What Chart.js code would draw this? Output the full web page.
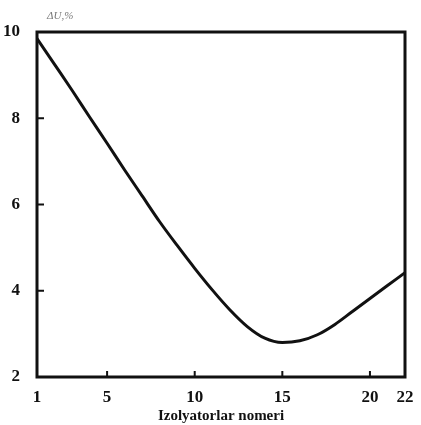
<!DOCTYPE html>
<html>
<head>
<meta charset="utf-8">
<script src="https://cdn.jsdelivr.net/npm/chart.js@4/dist/chart.umd.min.js"></script>
<style>
  html, body { margin: 0; padding: 0; background: #fff; }
  #wrap { width: 421px; height: 425px; }
</style>
</head>
<body>
<div id="wrap"><canvas id="lineChart" width="421" height="425"></canvas></div>
<script>
// izolyator numbers and voltage drop
const insulators = [1, 2, 3, 4, 5, 6, 7, 8, 9, 10, 11, 12, 13, 14, 15, 16, 17, 18, 19, 20, 21, 22];
const deltaU = [9.85, 9.25, 8.65, 8.03, 7.42, 6.8, 6.2, 5.6, 5.05, 4.52, 4.02, 3.56, 3.17, 2.9, 2.8, 2.84, 2.98, 3.22, 3.52, 3.82, 4.12, 4.42];
const xTicks = [1, 5, 10, 15, 20, 22];
const yTicks = [2, 4, 6, 8, 10];

const serif = '"Liberation Serif", "DejaVu Serif", serif';

// frame, inner tick marks and the small axis note
const framePlugin = {
    id: 'frame',
    afterDraw(chart) {
        const ctx = chart.ctx;
        const a = chart.chartArea;
        const xs = chart.scales.x, ys = chart.scales.y;
        ctx.save();
        ctx.strokeStyle = '#111';
        ctx.lineWidth = 3;
        ctx.strokeRect(a.left, a.top, a.right - a.left, a.bottom - a.top);
        ctx.lineWidth = 2;
        ctx.beginPath();
        [8, 6, 4].forEach(v => {
            const y = ys.getPixelForValue(v);
            ctx.moveTo(a.left, y);
            ctx.lineTo(a.left + 7, y);
        });
        [5, 10, 15, 20].forEach(v => {
            const x = xs.getPixelForValue(v);
            ctx.moveTo(x, a.bottom);
            ctx.lineTo(x, a.bottom - 6);
        });
        ctx.stroke();
        ctx.fillStyle = '#777';
        ctx.font = 'italic 11px ' + serif;
        ctx.textBaseline = 'middle';
        ctx.fillText('\u0394U,%', a.left + 10, a.top - 16);
        ctx.restore();
    }
};

new Chart(document.getElementById('lineChart').getContext('2d'), {
    type: 'line',
    data: {
        datasets: [{
            data: insulators.map((x, i) => ({ x: x, y: deltaU[i] })),
            borderColor: '#111',
            borderWidth: 3,
            pointRadius: 0,
            cubicInterpolationMode: 'monotone',
            fill: false
        }]
    },
    options: {
        responsive: false,
        animation: false,
        layout: { padding: { top: 32, right: 16, left: 0, bottom: 0 } },
        plugins: { legend: { display: false }, tooltip: { enabled: false } },
        scales: {
            x: {
                type: 'linear',
                min: 1,
                max: 22,
                afterBuildTicks: s => { s.ticks = xTicks.map(v => ({ value: v })); },
                afterFit: s => { s.height = 48; },
                grid: { display: false },
                border: { display: false },
                ticks: {
                    color: '#111',
                    font: { family: serif, size: 17, weight: 'bold' },
                    padding: 2,
                    maxRotation: 0,
                    autoSkip: false
                },
                title: {
                    display: true,
                    text: 'Izolyatorlar nomeri',
                    color: '#111',
                    font: { family: serif, size: 15, weight: 'bold' },
                    padding: { top: 0, bottom: 0 }
                }
            },
            y: {
                min: 2,
                max: 10,
                afterBuildTicks: s => { s.ticks = yTicks.map(v => ({ value: v })); },
                afterFit: s => { s.width = 37; },
                grid: { display: false },
                border: { display: false },
                ticks: {
                    color: '#111',
                    font: { family: serif, size: 17, weight: 'bold' },
                    padding: 9
                }
            }
        }
    },
    plugins: [framePlugin]
});
</script>
</body>
</html>
